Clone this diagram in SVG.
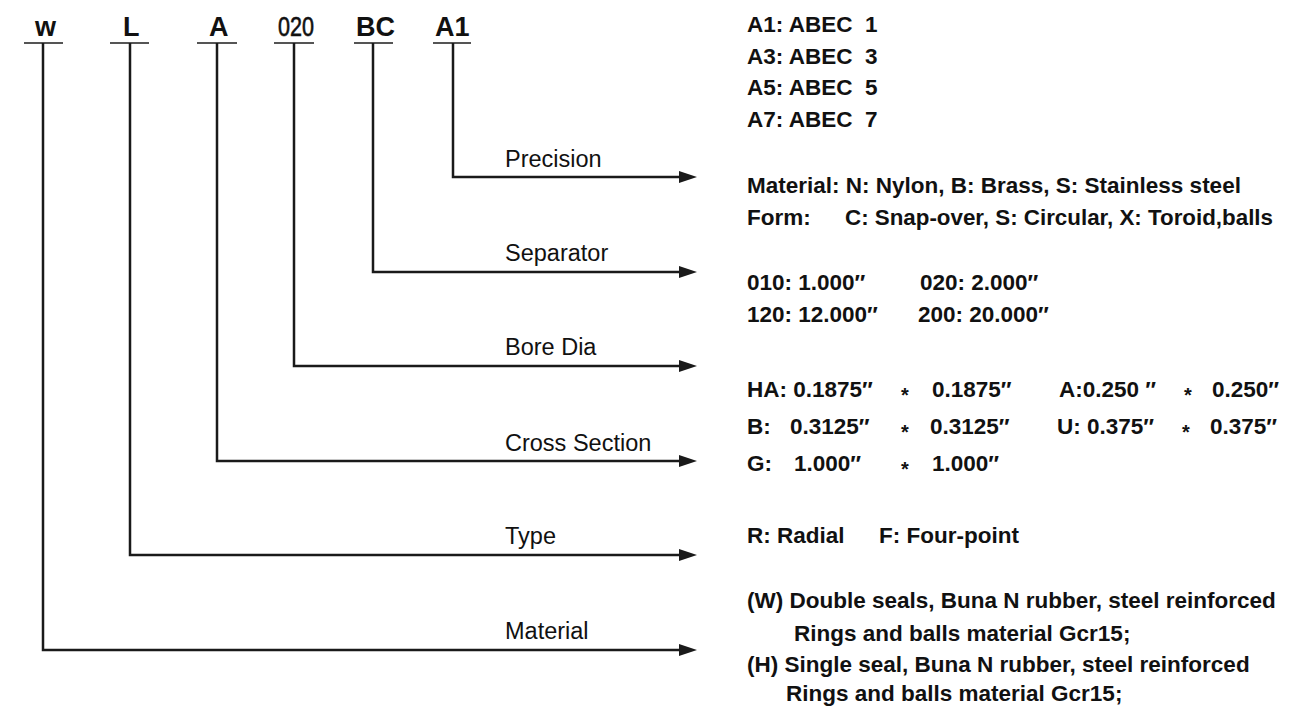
<svg xmlns="http://www.w3.org/2000/svg" width="1316" height="710" viewBox="0 0 1316 710" xml:space="preserve">
<defs>
<marker id="arr" markerUnits="userSpaceOnUse" markerWidth="18" markerHeight="12" viewBox="0 0 18 12" refX="0" refY="6" orient="auto">
<path d="M0,0 L18,6 L0,12 z" fill="#1a1a1a"/>
</marker>
<style>
.code{font-family:"Liberation Sans",Arial,sans-serif;font-size:27px;font-weight:bold;fill:#111}
.cond{font-family:"Liberation Sans",Arial,sans-serif;font-size:27px;fill:#111;stroke:#111;stroke-width:0.6}
.lbl{font-family:"Liberation Sans",Arial,sans-serif;font-size:23.5px;fill:#111}
.desc{font-family:"Liberation Sans",Arial,sans-serif;font-size:22.5px;font-weight:bold;fill:#111;white-space:pre}
.star{font-family:"Liberation Sans",Arial,sans-serif;font-size:20px;font-weight:bold;fill:#111}
.ul{stroke:#555;stroke-width:2}
.conn{fill:none;stroke:#1a1a1a;stroke-width:2.5;marker-end:url(#arr)}
</style>
</defs>
<rect width="1316" height="710" fill="#fff"/>
<g id="code-w"><text class="code" x="35" y="36">w</text><line class="ul" x1="24" y1="43" x2="63" y2="43"/></g>
<g id="code-L"><text class="code" x="123" y="36">L</text><line class="ul" x1="110" y1="43" x2="149" y2="43"/></g>
<g id="code-A"><text class="code" x="209" y="36">A</text><line class="ul" x1="197" y1="43" x2="237" y2="43"/></g>
<g id="code-020"><text class="cond" x="278" y="36" textLength="36" lengthAdjust="spacingAndGlyphs">020</text><line class="ul" x1="274" y1="43" x2="314" y2="43"/></g>
<g id="code-BC"><text class="code" x="356" y="36">BC</text><line class="ul" x1="354" y1="43" x2="393" y2="43"/></g>
<g id="code-A1"><text class="code" x="435" y="36">A1</text><line class="ul" x1="433" y1="43" x2="471" y2="43"/></g>
<g id="connectors">
<path class="conn" d="M453,43 V177 H679"/>
<path class="conn" d="M373,43 V272 H679"/>
<path class="conn" d="M294,43 V366 H679"/>
<path class="conn" d="M217,43 V461 H679"/>
<path class="conn" d="M130,43 V555 H679"/>
<path class="conn" d="M43,43 V650 H679"/>
</g>
<g id="label-precision"><text class="lbl" x="505" y="167">Precision</text></g>
<g id="label-separator"><text class="lbl" x="505" y="261">Separator</text></g>
<g id="label-bore"><text class="lbl" x="505" y="355">Bore Dia</text></g>
<g id="label-cross"><text class="lbl" x="505" y="451">Cross Section</text></g>
<g id="label-type"><text class="lbl" x="505" y="544">Type</text></g>
<g id="label-material"><text class="lbl" x="505" y="639">Material</text></g>
<g id="desc-precision">
<text class="desc" x="747" y="32">A1: ABEC  1</text>
<text class="desc" x="747" y="63.5">A3: ABEC  3</text>
<text class="desc" x="747" y="95">A5: ABEC  5</text>
<text class="desc" x="747" y="126.5">A7: ABEC  7</text>
</g>
<g id="desc-separator">
<text class="desc" x="747" y="193">Material: N: Nylon, B: Brass, S: Stainless steel</text>
<text class="desc" x="747" y="225">Form:</text>
<text class="desc" x="845" y="225" textLength="428" lengthAdjust="spacingAndGlyphs">C: Snap-over, S: Circular, X: Toroid,balls</text>
</g>
<g id="desc-bore">
<text class="desc" x="747" y="290">010: 1.000″</text>
<text class="desc" x="920" y="290">020: 2.000″</text>
<text class="desc" x="747" y="322">120: 12.000″</text>
<text class="desc" x="918" y="322">200: 20.000″</text>
</g>
<g id="desc-cross">
<text class="desc" x="747" y="397">HA: 0.1875″</text>
<text class="star" x="901" y="402">*</text>
<text class="desc" x="932" y="397">0.1875″</text>
<text class="desc" x="1059" y="397">A:0.250 ″</text>
<text class="star" x="1184" y="402">*</text>
<text class="desc" x="1212" y="397">0.250″</text>
<text class="desc" x="747" y="434">B:</text>
<text class="desc" x="790" y="434">0.3125″</text>
<text class="star" x="901" y="439">*</text>
<text class="desc" x="930" y="434">0.3125″</text>
<text class="desc" x="1057" y="434">U: 0.375″</text>
<text class="star" x="1182" y="439">*</text>
<text class="desc" x="1210" y="434">0.375″</text>
<text class="desc" x="747" y="471">G:</text>
<text class="desc" x="794" y="471">1.000″</text>
<text class="star" x="901" y="476">*</text>
<text class="desc" x="932" y="471">1.000″</text>
</g>
<g id="desc-type">
<text class="desc" x="747" y="543">R: Radial</text>
<text class="desc" x="879" y="543">F: Four-point</text>
</g>
<g id="desc-material">
<text class="desc" x="747" y="608">(W) Double seals, Buna N rubber, steel reinforced</text>
<text class="desc" x="794" y="641">Rings and balls material Gcr15;</text>
<text class="desc" x="747" y="672">(H) Single seal, Buna N rubber, steel reinforced</text>
<text class="desc" x="786" y="701">Rings and balls material Gcr15;</text>
</g>
</svg>
